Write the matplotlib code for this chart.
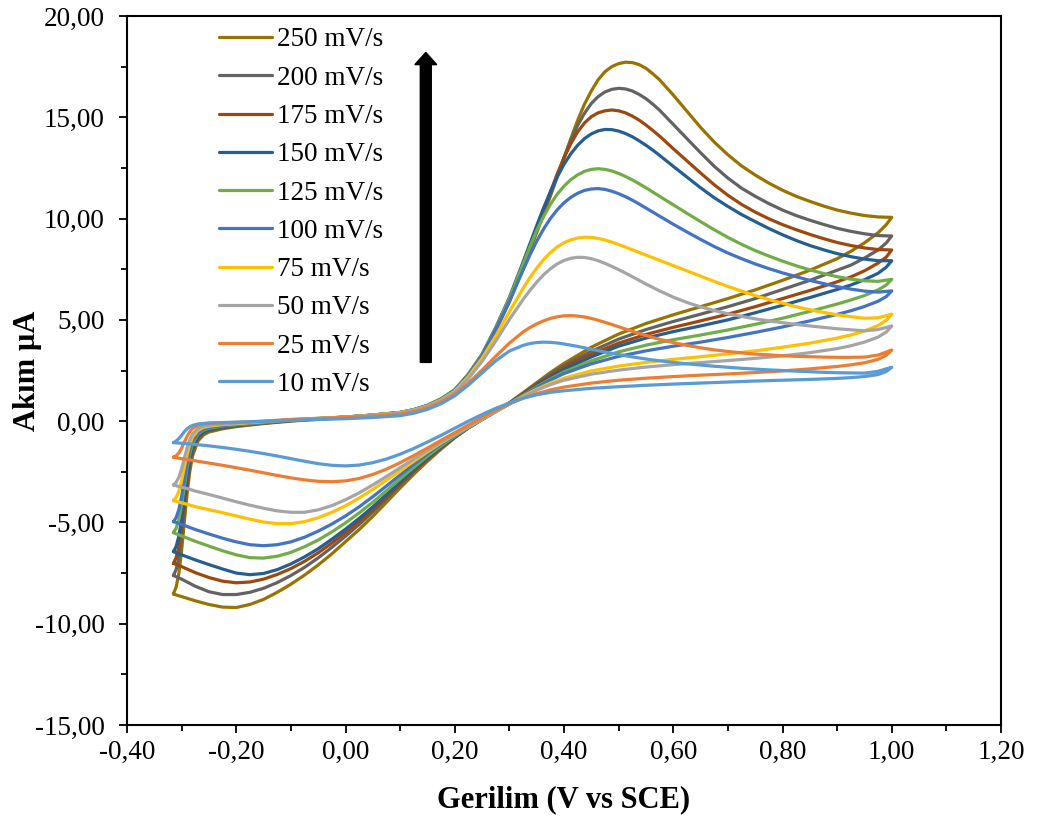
import matplotlib
matplotlib.use("Agg")
import matplotlib.pyplot as plt
from matplotlib.ticker import MultipleLocator, FuncFormatter

# potentials (V vs SCE) of the forward (upper) sweep
E_FWD = [-0.315, -0.31, -0.305, -0.30, -0.295, -0.29, -0.285, -0.28, -0.27, -0.26, -0.25, -0.225, -0.20,
         -0.15, -0.10, -0.05, 0.00, 0.05, 0.10,
         0.125, 0.15, 0.175, 0.20, 0.225, 0.25, 0.275, 0.30, 0.325,
         0.3375, 0.35, 0.3625, 0.375, 0.3875, 0.40, 0.4125, 0.425, 0.4375, 0.45,
         0.4625, 0.475, 0.4875, 0.50, 0.5125, 0.525, 0.5375, 0.55, 0.5625, 0.575,
         0.60, 0.625, 0.65, 0.675, 0.70, 0.725, 0.75, 0.775, 0.80, 0.825, 0.85, 0.875, 0.90, 0.925,
         0.95, 0.975, 1.00]
# potentials of the reverse (lower) sweep
E_REV = [1.00, 0.99, 0.975, 0.95, 0.925, 0.90,
         0.85, 0.80, 0.75, 0.70, 0.65, 0.60, 0.55, 0.50, 0.45, 0.40,
         0.375, 0.35, 0.325, 0.30, 0.275, 0.25, 0.225, 0.20, 0.175, 0.15, 0.125, 0.10, 0.075, 0.05, 0.025,
         0.00, -0.025, -0.05, -0.075, -0.10, -0.125, -0.15, -0.175, -0.20, -0.225, -0.25, -0.275, -0.30, -0.31, -0.315]

# current (uA), forward sweep
fwd_250 = [-8.53, -8.19, -7.51, -6.40, -4.95, -3.58, -2.47, -1.71, -0.98, -0.68, -0.54, -0.38, -0.27,
           -0.12, 0.0, 0.09, 0.18, 0.27, 0.40,
           0.53, 0.75, 1.07, 1.5, 2.25, 3.2, 4.45, 5.9, 7.6,
           8.45, 9.3, 10.2, 11.1, 12.05, 13.0, 13.95, 14.85, 15.65, 16.3,
           16.85, 17.25, 17.5, 17.65, 17.72, 17.7, 17.6, 17.42, 17.15, 16.85,
           16.1, 15.3, 14.5, 13.78, 13.15, 12.6, 12.15, 11.75, 11.4, 11.1, 10.85, 10.62, 10.42, 10.27,
           10.15, 10.08, 10.06]
fwd_200 = [-7.62, -7.32, -6.71, -5.72, -4.42, -3.20, -2.21, -1.52, -0.88, -0.61, -0.48, -0.34, -0.24,
           -0.1, 0.02, 0.11, 0.2, 0.29, 0.42,
           0.54, 0.75, 1.07, 1.5, 2.25, 3.2, 4.5, 5.95, 7.65,
           8.5, 9.4, 10.3, 11.2, 12.1, 13.0, 13.85, 14.6, 15.2, 15.68,
           16.02, 16.25, 16.38, 16.43, 16.4, 16.3, 16.13, 15.92, 15.65, 15.35,
           14.65, 13.95, 13.25, 12.58, 12.0, 11.5, 11.1, 10.74, 10.42, 10.15, 9.92, 9.71, 9.52, 9.37,
           9.25, 9.16, 9.14]
fwd_175 = [-7.02, -6.74, -6.18, -5.27, -4.07, -2.95, -2.04, -1.40, -0.81, -0.56, -0.44, -0.31, -0.22,
           -0.09, 0.03, 0.12, 0.2, 0.3, 0.42,
           0.55, 0.76, 1.08, 1.52, 2.28, 3.25, 4.55, 6.0, 7.7,
           8.6, 9.5, 10.4, 11.3, 12.2, 13.0, 13.7, 14.28, 14.72, 15.03,
           15.22, 15.32, 15.36, 15.32, 15.22, 15.06, 14.86, 14.62, 14.35, 14.07,
           13.45, 12.85, 12.25, 11.67, 11.15, 10.7, 10.32, 9.99, 9.7, 9.45, 9.22, 9.01, 8.82, 8.67,
           8.55, 8.47, 8.45]
fwd_150 = [-6.44, -6.18, -5.67, -4.83, -3.74, -2.70, -1.87, -1.29, -0.74, -0.52, -0.41, -0.28, -0.21,
           -0.08, 0.04, 0.12, 0.2, 0.3, 0.43,
           0.57, 0.78, 1.1, 1.55, 2.32, 3.3, 4.62, 6.1, 7.85,
           8.75, 9.65, 10.52, 11.32, 12.05, 12.68, 13.2, 13.62, 13.95, 14.18,
           14.33, 14.4, 14.39, 14.32, 14.2, 14.04, 13.84, 13.62, 13.38, 13.12,
           12.58, 12.05, 11.52, 11.03, 10.6, 10.2, 9.85, 9.51, 9.2, 8.92, 8.67, 8.46, 8.27, 8.12,
           8.0, 7.92, 7.92]
fwd_125 = [-5.5, -5.28, -4.84, -4.13, -3.19, -2.31, -1.60, -1.10, -0.63, -0.44, -0.35, -0.24, -0.18,
           -0.07, 0.05, 0.13, 0.2, 0.3, 0.43,
           0.57, 0.78, 1.1, 1.55, 2.32, 3.3, 4.6, 6.05, 7.75,
           8.6, 9.4, 10.1, 10.7, 11.2, 11.6, 11.92, 12.16, 12.33, 12.43,
           12.46, 12.43, 12.35, 12.23, 12.08, 11.91, 11.72, 11.52, 11.31, 11.1,
           10.68, 10.26, 9.85, 9.45, 9.07, 8.73, 8.42, 8.15, 7.9, 7.67, 7.47, 7.29, 7.13, 7.01,
           6.93, 6.9, 7.0]
fwd_100 = [-4.96, -4.76, -4.36, -3.72, -2.88, -2.08, -1.44, -0.99, -0.57, -0.40, -0.31, -0.22, -0.16,
           -0.05, 0.06, 0.13, 0.2, 0.3, 0.43,
           0.56, 0.77, 1.08, 1.52, 2.28, 3.25, 4.52, 5.9, 7.45,
           8.2, 8.88, 9.48, 10.0, 10.43, 10.78, 11.05, 11.25, 11.39, 11.46,
           11.48, 11.44, 11.35, 11.23, 11.08, 10.91, 10.72, 10.52, 10.32, 10.12,
           9.72, 9.34, 8.97, 8.62, 8.3, 8.02, 7.76, 7.53, 7.32, 7.13, 6.95, 6.79, 6.64, 6.52,
           6.42, 6.37, 6.43]
fwd_75 = [-3.92, -3.76, -3.45, -2.94, -2.27, -1.65, -1.14, -0.78, -0.45, -0.31, -0.25, -0.17, -0.13,
          -0.03, 0.07, 0.14, 0.2, 0.3, 0.42,
          0.55, 0.75, 1.05, 1.48, 2.2, 3.1, 4.2, 5.4, 6.55,
          7.08, 7.55, 7.97, 8.32, 8.6, 8.81, 8.95, 9.04, 9.08, 9.07,
          9.02, 8.94, 8.84, 8.72, 8.59, 8.46, 8.33, 8.2, 8.07, 7.94,
          7.68, 7.42, 7.16, 6.9, 6.65, 6.42, 6.2, 6.0, 5.82, 5.65, 5.5, 5.37, 5.25, 5.16,
          5.08, 5.1, 5.28]
fwd_50 = [-3.15, -3.02, -2.77, -2.36, -1.83, -1.32, -0.91, -0.63, -0.36, -0.25, -0.2, -0.14, -0.1,
          -0.01, 0.08, 0.14, 0.2, 0.29, 0.4,
          0.53, 0.73, 1.02, 1.43, 2.1, 2.95, 3.95, 5.02, 6.0,
          6.45, 6.86, 7.22, 7.52, 7.76, 7.93, 8.04, 8.09, 8.08, 8.02,
          7.92, 7.79, 7.64, 7.48, 7.31, 7.13, 6.95, 6.77, 6.6, 6.43,
          6.12, 5.86, 5.64, 5.46, 5.3, 5.17, 5.05, 4.95, 4.86, 4.78, 4.7, 4.63, 4.56, 4.51,
          4.46, 4.52, 4.7]
fwd_25 = [-1.78, -1.71, -1.57, -1.34, -1.03, -0.75, -0.52, -0.36, -0.20, -0.14, -0.11, -0.08, -0.06,
          0.0, 0.08, 0.13, 0.18, 0.25, 0.35,
          0.47, 0.66, 0.94, 1.33, 1.88, 2.52, 3.2, 3.85, 4.4,
          4.62, 4.8, 4.95, 5.07, 5.15, 5.2, 5.21, 5.19, 5.14, 5.07,
          4.98, 4.88, 4.77, 4.66, 4.55, 4.44, 4.33, 4.23, 4.13, 4.04,
          3.88, 3.74, 3.62, 3.52, 3.44, 3.37, 3.31, 3.27, 3.23, 3.2, 3.18, 3.16, 3.15, 3.15,
          3.16, 3.26, 3.51]
fwd_10 = [-1.06, -0.98, -0.86, -0.7, -0.52, -0.38, -0.28, -0.21, -0.14, -0.11, -0.09, -0.07, -0.05,
          -0.01, 0.04, 0.08, 0.12, 0.18, 0.27,
          0.39, 0.58, 0.86, 1.25, 1.78, 2.38, 2.98, 3.46, 3.74,
          3.83, 3.88, 3.9, 3.89, 3.86, 3.81, 3.75, 3.69, 3.62, 3.55,
          3.48, 3.41, 3.35, 3.29, 3.23, 3.17, 3.12, 3.07, 3.02, 2.98,
          2.9, 2.83, 2.77, 2.71, 2.66, 2.61, 2.57, 2.53, 2.5, 2.47, 2.44, 2.41, 2.39, 2.38,
          2.37, 2.46, 2.66]

# current (uA), reverse sweep
rev_250 = [10.06, 9.7, 9.3, 8.8, 8.38, 8.02,
           7.45, 6.95, 6.48, 6.05, 5.65, 5.25, 4.82, 4.3, 3.65, 2.85,
           2.4, 1.9, 1.4, 0.9, 0.5, 0.1, -0.33, -0.82, -1.38, -1.98, -2.62, -3.3, -4.0, -4.7, -5.35,
           -5.95, -6.55, -7.1, -7.6, -8.05, -8.45, -8.8, -9.05, -9.2, -9.18, -9.05, -8.87, -8.66, -8.58, -8.53]
rev_200 = [9.14, 8.8, 8.45, 8.05, 7.7, 7.45,
           6.95, 6.5, 6.05, 5.65, 5.28, 4.92, 4.52, 4.05, 3.45, 2.75,
           2.32, 1.85, 1.37, 0.9, 0.5, 0.1, -0.32, -0.8, -1.33, -1.9, -2.5, -3.15, -3.82, -4.48, -5.1,
           -5.68, -6.23, -6.75, -7.22, -7.62, -7.97, -8.25, -8.45, -8.56, -8.56, -8.42, -8.15, -7.8, -7.68, -7.62]
rev_175 = [8.45, 8.1, 7.8, 7.42, 7.12, 6.88,
           6.45, 6.05, 5.65, 5.28, 4.95, 4.63, 4.28, 3.85, 3.3, 2.65,
           2.25, 1.8, 1.35, 0.88, 0.48, 0.08, -0.33, -0.8, -1.3, -1.85, -2.45, -3.08, -3.72, -4.35, -4.95,
           -5.5, -6.02, -6.5, -6.92, -7.28, -7.57, -7.8, -7.94, -7.98, -7.9, -7.72, -7.48, -7.18, -7.07, -7.02]
rev_150 = [7.92, 7.6, 7.3, 6.98, 6.72, 6.5,
           6.1, 5.72, 5.35, 5.0, 4.7, 4.42, 4.1, 3.7, 3.17, 2.55,
           2.17, 1.75, 1.3, 0.87, 0.47, 0.08, -0.33, -0.78, -1.27, -1.8, -2.38, -3.0, -3.62, -4.23, -4.8,
           -5.33, -5.83, -6.3, -6.7, -7.05, -7.33, -7.52, -7.58, -7.5, -7.3, -7.08, -6.85, -6.6, -6.5, -6.44]
rev_125 = [7.0, 6.72, 6.48, 6.2, 5.98, 5.78,
           5.42, 5.08, 4.78, 4.5, 4.25, 4.02, 3.75, 3.42, 2.98, 2.43,
           2.08, 1.7, 1.28, 0.86, 0.47, 0.08, -0.32, -0.75, -1.22, -1.73, -2.28, -2.85, -3.43, -4.0, -4.53,
           -5.02, -5.47, -5.87, -6.2, -6.48, -6.67, -6.76, -6.74, -6.6, -6.4, -6.17, -5.93, -5.67, -5.56, -5.5]
rev_100 = [6.43, 6.15, 5.92, 5.66, 5.45, 5.27,
           4.95, 4.65, 4.38, 4.13, 3.9, 3.7, 3.47, 3.2, 2.83, 2.35,
           2.03, 1.66, 1.26, 0.86, 0.48, 0.1, -0.29, -0.7, -1.14, -1.62, -2.13, -2.66, -3.2, -3.73, -4.23,
           -4.68, -5.08, -5.43, -5.73, -5.96, -6.1, -6.15, -6.1, -5.96, -5.78, -5.57, -5.35, -5.1, -5.0, -4.96]
rev_75 = [5.28, 4.98, 4.72, 4.45, 4.25, 4.1,
          3.85, 3.65, 3.47, 3.32, 3.18, 3.05, 2.9, 2.72, 2.48, 2.12,
          1.88, 1.58, 1.23, 0.85, 0.47, 0.1, -0.28, -0.67, -1.08, -1.52, -1.98, -2.45, -2.92, -3.37, -3.8,
          -4.18, -4.5, -4.77, -4.96, -5.06, -5.06, -4.98, -4.84, -4.68, -4.52, -4.37, -4.22, -4.03, -3.96, -3.92]
rev_50 = [4.7, 4.4, 4.15, 3.9, 3.72, 3.58,
          3.38, 3.22, 3.1, 2.99, 2.89, 2.79, 2.67, 2.52, 2.32, 2.02,
          1.8, 1.53, 1.2, 0.84, 0.47, 0.1, -0.27, -0.65, -1.04, -1.45, -1.87, -2.3, -2.73, -3.15, -3.54,
          -3.88, -4.17, -4.38, -4.5, -4.5, -4.43, -4.3, -4.15, -3.98, -3.8, -3.62, -3.45, -3.25, -3.19, -3.15]
rev_25 = [3.51, 3.25, 3.05, 2.88, 2.78, 2.7,
          2.58, 2.48, 2.4, 2.33, 2.27, 2.2, 2.12, 2.02, 1.88, 1.68,
          1.54, 1.36, 1.13, 0.85, 0.53, 0.18, -0.19, -0.57, -0.95, -1.33, -1.7, -2.05, -2.37, -2.63, -2.83,
          -2.95, -2.99, -2.97, -2.9, -2.8, -2.68, -2.55, -2.42, -2.3, -2.18, -2.07, -1.96, -1.85, -1.81, -1.78]
rev_10 = [2.66, 2.45, 2.3, 2.2, 2.15, 2.11,
          2.06, 2.02, 1.98, 1.93, 1.88, 1.83, 1.77, 1.7, 1.62, 1.5,
          1.42, 1.3, 1.13, 0.9, 0.63, 0.33, 0.0, -0.35, -0.7, -1.03, -1.35, -1.63, -1.87, -2.05, -2.17,
          -2.21, -2.18, -2.1, -1.98, -1.85, -1.72, -1.6, -1.49, -1.39, -1.3, -1.22, -1.15, -1.09, -1.07, -1.06]

labels = ["250 mV/s", "200 mV/s", "175 mV/s", "150 mV/s", "125 mV/s",
          "100 mV/s", "75 mV/s", "50 mV/s", "25 mV/s", "10 mV/s"]
forward = [fwd_250, fwd_200, fwd_175, fwd_150, fwd_125, fwd_100, fwd_75, fwd_50, fwd_25, fwd_10]
reverse = [rev_250, rev_200, rev_175, rev_150, rev_125, rev_100, rev_75, rev_50, rev_25, rev_10]
colors = ["#997300", "#636363", "#9E480E", "#255E91", "#70AD47",
          "#4472C4", "#FFC000", "#A5A5A5", "#ED7D31", "#5B9BD5"]

plt.rcParams['font.family'] = ['Liberation Serif', 'DejaVu Serif']

fig = plt.figure(figsize=(10.39, 8.25), dpi=100)
ax = fig.add_axes([127 / 1039, 1 - 725 / 825, 874 / 1039, 709 / 825])

for lab, f, r, c in zip(labels, forward, reverse, colors):
    ax.plot(E_FWD + E_REV, f + r, color=c, lw=2.3, label=lab,
            solid_joinstyle='round', solid_capstyle='round')

# scan-rate arrow
ax.arrow(0.147, 2.9, 0, 15.3, width=0.02, head_width=0.04, head_length=0.6,
         length_includes_head=True, color='black', zorder=5)

ax.set_xlim(-0.4, 1.2)
ax.set_ylim(-15, 20)
ax.xaxis.set_major_locator(MultipleLocator(0.2))
ax.xaxis.set_minor_locator(MultipleLocator(0.1))
ax.yaxis.set_major_locator(MultipleLocator(5))
ax.yaxis.set_minor_locator(MultipleLocator(2.5))


def comma(v, pos):
    if abs(v) < 1e-9:
        v = 0.0
    return f"{v:.2f}".replace('.', ',')


ax.xaxis.set_major_formatter(FuncFormatter(comma))
ax.yaxis.set_major_formatter(FuncFormatter(comma))
ax.tick_params(which='both', direction='out', top=False, right=False, width=1.3)
ax.tick_params(which='major', length=6, labelsize=19.5)
ax.tick_params(which='minor', length=4)
ax.tick_params(axis='y', which='major', pad=10)
ax.tick_params(axis='x', which='major', pad=5)
for s in ax.spines.values():
    s.set_linewidth(1.5)

ax.set_xlabel("Gerilim (V vs SCE)", fontsize=22, fontweight='bold')
ax.set_ylabel("Akım µA", fontsize=22, fontweight='bold')
ax.xaxis.label.set_verticalalignment('center')
ax.yaxis.label.set_verticalalignment('center')
ax.xaxis.set_label_coords(0.5, -0.106)
ax.yaxis.set_label_coords(-0.114, 0.5)

ax.legend(loc='upper left', bbox_to_anchor=(219 / 1039, 1 - 27.5 / 825),
          bbox_transform=fig.transFigure, frameon=False, fontsize=19.5,
          borderpad=0, borderaxespad=0, handlelength=1.96, handletextpad=0.18,
          labelspacing=0.49)

fig.savefig("out.png", dpi=100)
